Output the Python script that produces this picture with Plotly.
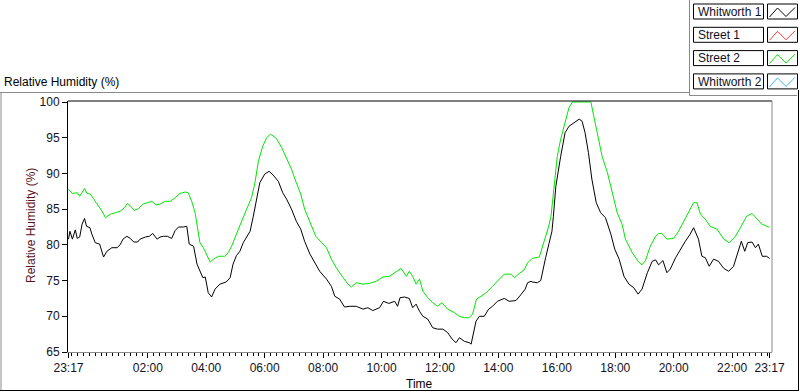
import plotly.graph_objects as go
from datetime import datetime, timedelta

# ---------------- data ----------------
whitworth1_times = [
    "23:17", "23:20", "23:25", "23:31", "23:35", "23:40", "23:45", "23:50", "23:54", "00:01",
    "00:05", "00:12", "00:21", "00:26", "00:29", "00:36", "00:46", "00:57", "01:03", "01:09",
    "01:17", "01:24", "01:31", "01:39", "01:44", "01:55", "02:03", "02:10", "02:19", "02:25",
    "02:32", "02:40", "02:49", "02:56", "03:03", "03:13", "03:20", "03:25", "03:34", "03:41",
    "03:47", "03:53", "03:58", "04:04", "04:11", "04:18", "04:28", "04:41", "04:49", "04:55",
    "05:02", "05:09", "05:16", "05:30", "05:36", "05:43", "05:50", "06:00", "06:09", "06:17",
    "06:28", "06:37", "06:45", "06:55", "07:05", "07:14", "07:22", "07:33", "07:45", "07:53",
    "08:07", "08:17", "08:24", "08:34", "08:44", "08:55", "09:08", "09:22", "09:32", "09:42",
    "09:56", "10:04", "10:15", "10:27", "10:33", "10:38", "10:47", "10:57", "11:04", "11:11",
    "11:18", "11:25", "11:35", "11:45", "11:55", "12:06", "12:16", "12:25", "12:33", "12:40",
    "12:50", "13:00", "13:04", "13:09", "13:14", "13:21", "13:31", "13:40", "13:48", "13:58",
    "14:12", "14:22", "14:36", "14:46", "14:55", "15:00", "15:07", "15:10", "15:20", "15:27",
    "15:32", "15:37", "15:44", "15:50", "15:53", "15:58", "16:08", "16:17", "16:25", "16:35",
    "16:46", "16:52", "16:58", "17:05", "17:12", "17:21", "17:30", "17:40", "17:51", "17:59",
    "18:08", "18:18", "18:28", "18:38", "18:47", "18:55", "19:06", "19:16", "19:23", "19:29",
    "19:38", "19:46", "19:53", "20:04", "20:14", "20:24", "20:34", "20:41", "20:51", "20:58",
    "21:05", "21:13", "21:22", "21:32", "21:43", "21:53", "22:03", "22:10", "22:19", "22:26",
    "22:32", "22:41", "22:48", "22:54", "23:02", "23:11", "23:17",
]
whitworth1_values = [
    80.8, 81.9, 80.8, 82.1, 80.9, 81.1, 82.9, 83.7, 82.6, 82.4,
    81.5, 80.3, 80.1, 79.1, 78.3, 79.1, 79.6, 79.6, 80.0, 80.8,
    81.2, 80.9, 80.4, 80.4, 80.8, 81.1, 81.2, 81.6, 80.8, 81.1,
    81.2, 81.2, 80.9, 82.0, 82.5, 82.5, 82.6, 80.1, 79.8, 77.3,
    76.3, 75.4, 75.5, 73.3, 72.7, 73.8, 74.5, 74.8, 75.4, 77.3,
    78.5, 79.1, 80.3, 81.9, 83.8, 86.4, 88.7, 89.9, 90.3, 89.8,
    88.9, 87.3, 86.4, 85.0, 83.3, 82.2, 80.5, 78.7, 77.3, 76.3,
    75.2, 74.2, 72.8, 72.4, 71.3, 71.4, 71.4, 71.0, 71.2, 70.8,
    71.2, 72.1, 71.8, 72.1, 71.4, 72.6, 72.7, 72.5, 71.2, 71.7,
    70.7, 70.0, 69.6, 68.4, 68.2, 68.2, 67.7, 66.8, 66.3, 67.0,
    66.5, 66.3, 66.1, 67.5, 69.3, 70.0, 70.0, 71.0, 71.4, 72.1,
    72.5, 72.1, 72.2, 73.0, 73.8, 74.7, 74.9, 74.8, 74.7, 75.0,
    76.8, 78.2, 80.2, 81.9, 84.0, 88.2, 92.4, 95.7, 96.6, 97.1,
    97.6, 97.3, 95.7, 92.9, 89.2, 85.9, 84.5, 83.8, 81.5, 79.4,
    78.0, 75.6, 74.5, 74.0, 73.1, 73.8, 76.1, 77.7, 77.9, 77.2,
    77.8, 76.1, 76.6, 78.2, 79.4, 80.5, 81.5, 82.4, 80.8, 78.4,
    78.2, 77.0, 78.0, 77.7, 76.7, 76.3, 77.0, 78.7, 80.5, 79.1,
    80.3, 80.4, 79.6, 80.1, 78.4, 78.4, 78.1,
]

street2_times = [
    "23:17", "23:25", "23:35", "23:40", "23:50", "23:55", "00:02", "00:09", "00:19", "00:26",
    "00:33", "00:43", "00:53", "01:03", "01:12", "01:18", "01:25", "01:32", "01:41", "01:50",
    "01:59", "02:08", "02:17", "02:25", "02:36", "02:46", "02:56", "03:06", "03:17", "03:23",
    "03:30", "03:37", "03:42", "03:47", "03:54", "04:01", "04:08", "04:15", "04:25", "04:38",
    "04:45", "04:52", "04:59", "05:09", "05:23", "05:33", "05:40", "05:47", "05:56", "06:04",
    "06:12", "06:24", "06:35", "06:45", "06:55", "07:05", "07:14", "07:22", "07:33", "07:45",
    "07:57", "08:07", "08:17", "08:27", "08:41", "08:51", "08:58", "09:08", "09:22", "09:35",
    "09:49", "10:03", "10:16", "10:30", "10:40", "10:51", "10:57", "11:04", "11:11", "11:18",
    "11:25", "11:35", "11:45", "11:55", "12:04", "12:16", "12:30", "12:40", "12:50", "13:00",
    "13:07", "13:15", "13:24", "13:35", "13:48", "13:58", "14:12", "14:26", "14:33", "14:43",
    "14:53", "15:00", "15:10", "15:24", "15:30", "15:36", "15:43", "15:48", "15:54", "16:01",
    "16:08", "16:17", "16:25", "16:32", "17:10", "17:16", "17:25", "17:33", "17:44", "17:54",
    "18:04", "18:14", "18:21", "18:35", "18:48", "18:55", "19:02", "19:12", "19:23", "19:29",
    "19:36", "19:46", "20:00", "20:10", "20:21", "20:31", "20:41", "20:48", "20:55", "21:05",
    "21:15", "21:29", "21:43", "21:54", "22:07", "22:17", "22:30", "22:41", "22:51", "23:01",
    "23:15", "23:17",
]
street2_values = [
    87.8, 87.2, 87.3, 86.8, 87.9, 87.2, 87.1, 86.4, 85.4, 84.7,
    83.8, 84.3, 84.5, 84.7, 85.2, 85.8, 85.4, 84.8, 85.1, 85.7,
    85.9, 86.1, 85.6, 85.7, 86.1, 86.1, 86.6, 87.2, 87.4, 87.3,
    86.1, 84.5, 82.4, 80.3, 79.6, 78.7, 77.6, 78.0, 78.4, 78.4,
    78.9, 79.8, 81.1, 82.7, 85.0, 86.6, 88.7, 91.7, 93.8, 95.0,
    95.5, 94.9, 93.6, 92.2, 90.6, 88.7, 87.1, 85.0, 83.3, 81.2,
    80.3, 79.6, 78.0, 76.8, 75.4, 74.5, 74.1, 74.7, 74.5, 74.6,
    74.9, 75.5, 75.6, 76.3, 76.7, 75.6, 76.3, 75.6, 74.5, 75.2,
    73.5, 72.6, 71.9, 71.4, 71.9, 71.0, 70.5, 70.0, 69.8, 69.8,
    70.3, 72.4, 72.8, 73.3, 74.2, 74.9, 75.9, 75.9, 75.4, 76.0,
    76.5, 77.5, 78.1, 78.3, 79.6, 81.0, 82.5, 84.0, 88.2, 92.4,
    94.8, 97.3, 99.2, 100.0, 100.0, 98.0, 95.2, 92.4, 90.1, 87.3,
    84.5, 82.9, 80.8, 78.9, 77.6, 77.2, 77.8, 79.8, 81.2, 81.6,
    81.6, 80.8, 80.9, 81.9, 83.3, 84.7, 85.9, 85.9, 84.3, 83.6,
    82.6, 82.2, 80.8, 80.3, 81.2, 82.4, 84.0, 84.4, 83.6, 82.9,
    82.5, 82.5,
]

# Whitworth 2 sits on the top of the scale (100 %) for the whole day
whitworth2_times = ["23:17", "23:17"]
whitworth2_values = [100.0, 100.0]

series_names = ["Whitworth 1", "Street 1", "Street 2", "Whitworth 2"]
series_colors = ["#000000", "#ff3b3b", "#00e600", "#3cb4e8"]

y_ticks = [65, 70, 75, 80, 85, 90, 95, 100]
x_tick_labels = ["23:17", "02:00", "04:00", "06:00", "08:00", "10:00", "12:00",
                 "14:00", "16:00", "18:00", "20:00", "22:00", "23:17"]

# ---------------- helpers ----------------
BASE = datetime(2000, 1, 1)


def to_dt(times):
    out, day, prev = [], 0, None
    for t in times:
        h, m = map(int, t.split(":"))
        mins = h * 60 + m
        if prev is not None and mins < prev:
            day += 1
        prev = mins
        out.append(BASE + timedelta(days=day, minutes=mins))
    return out


W, H = 800, 392
PL, PR, PT, PB = 68, 772, 101, 352


def px(x):
    return (x - PL) / (PR - PL)


def py(y):
    return (PB - y) / (PB - PT)


FONT = "Liberation Sans, Arial, sans-serif"
TXT = "#111122"

fig = go.Figure()
fig.add_trace(go.Scatter(x=to_dt(whitworth1_times), y=whitworth1_values, mode="lines",
                         line=dict(color=series_colors[0], width=1), name=series_names[0]))
fig.add_trace(go.Scatter(x=to_dt(street2_times), y=street2_values, mode="lines",
                         line=dict(color=series_colors[2], width=1), name=series_names[2]))
fig.add_trace(go.Scatter(x=to_dt(whitworth2_times), y=whitworth2_values, mode="lines",
                         line=dict(color=series_colors[3], width=1), name=series_names[3]))

tickvals = to_dt(x_tick_labels)

shapes = []
annotations = []


def line(x0, y0, x1, y1, color, width=1):
    shapes.append(dict(type="line", xref="paper", yref="paper",
                       x0=px(x0), y0=py(y0), x1=px(x1), y1=py(y1),
                       line=dict(color=color, width=width), layer="above"))


# outer frame (sunken panel look)
line(0, 92.5, 689.5, 92.5, "#8a8a8a")
line(689.5, 0, 689.5, 95.5, "#8a8a8a")
line(689.5, 95.5, 797, 95.5, "#8a8a8a")
line(1, 92.5, 1, 390.5, "#8a8a8a")
line(0, 390.5, 798.5, 390.5, "#000000")
line(798.5, 90, 798.5, 391, "#000000")
# plot frame top / right
line(PL, PT, PR, PT, "#000000")
line(PR, PT, PR, PB, "#8a8a8a")

# legend boxes
for i, (name, col) in enumerate(zip(series_names, series_colors)):
    top = 4 + 23.3 * i
    shapes.append(dict(type="rect", xref="paper", yref="paper",
                       x0=px(693.5), x1=px(763.5), y0=py(top), y1=py(top + 15),
                       line=dict(color="#000000", width=1), fillcolor="white"))
    shapes.append(dict(type="rect", xref="paper", yref="paper",
                       x0=px(767.5), x1=px(797.5), y0=py(top), y1=py(top + 15),
                       line=dict(color="#000000", width=1), fillcolor="white"))
    pts = [(769.5, top + 13), (777.5, top + 4), (786, top + 12.5), (795, top + 3.5)]
    path = "M " + " L ".join(f"{px(a)},{py(b)}" for a, b in pts)
    shapes.append(dict(type="path", xref="paper", yref="paper", path=path,
                       line=dict(color=col, width=1)))
    annotations.append(dict(text=name, xref="paper", yref="paper", x=px(695.5),
                            y=py(top + 7.8), xanchor="left", yanchor="middle",
                            showarrow=False, font=dict(family=FONT, size=12, color=TXT)))

annotations.append(dict(text="Relative Humidity (%)", xref="paper", yref="paper",
                        x=px(1.5), y=py(82), xanchor="left", yanchor="middle",
                        showarrow=False, font=dict(family=FONT, size=12, color="#000000")))
annotations.append(dict(text="Relative Humidity (%)", xref="paper", yref="paper",
                        x=px(31), y=py(226), xanchor="center", yanchor="middle",
                        textangle=-90, showarrow=False,
                        font=dict(family=FONT, size=12, color="#5a1420")))
annotations.append(dict(text="Time", xref="paper", yref="paper",
                        x=px(419), y=py(384), xanchor="center", yanchor="middle",
                        showarrow=False, font=dict(family=FONT, size=12, color="#000000")))

fig.update_layout(
    width=W, height=H,
    margin=dict(l=PL, r=W - PR, t=PT, b=H - PB),
    paper_bgcolor="white", plot_bgcolor="white",
    showlegend=False,
    font=dict(family=FONT, size=12, color=TXT),
    shapes=shapes, annotations=annotations,
    xaxis=dict(
        type="date",
        range=[BASE + timedelta(hours=23, minutes=16), BASE + timedelta(days=1, hours=23, minutes=22)],
        tickvals=tickvals, ticktext=x_tick_labels,
        showgrid=False, zeroline=False,
        showline=True, linecolor="#8a8a8a", linewidth=1,
        ticks="outside", ticklen=5, tickcolor="#000000", tickwidth=1,
        tickfont=dict(family=FONT, size=12, color=TXT),
        minor=dict(ticks="outside", ticklen=3, tickcolor="#000000", tickwidth=1,
                   dtick=12 * 60 * 1000, tick0=BASE + timedelta(days=1), showgrid=False),
        fixedrange=True,
    ),
    yaxis=dict(
        range=[65, 100.14],
        tickvals=y_ticks,
        showgrid=False, zeroline=False,
        showline=True, linecolor="#000000", linewidth=1,
        ticks="outside", ticklen=5, tickcolor="#000000", tickwidth=1,
        tickfont=dict(family=FONT, size=12, color=TXT),
        fixedrange=True,
    ),
)

fig.write_html(
    "out.html",
    config={"displayModeBar": False},
    post_script="document.body.style.margin='0';document.body.style.padding='0';",
)
